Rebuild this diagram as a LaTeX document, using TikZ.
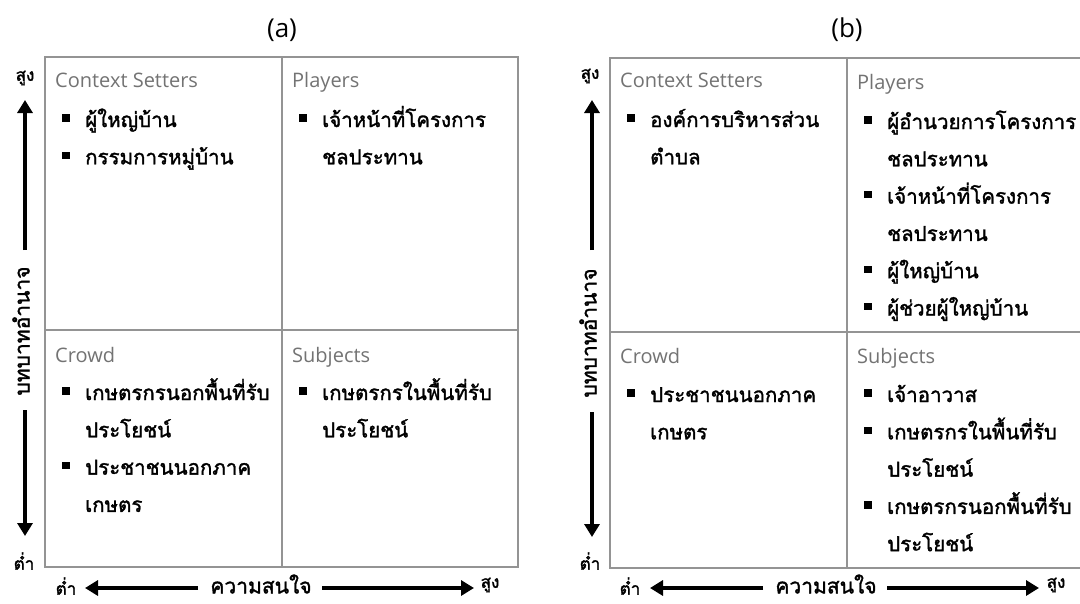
\documentclass[tikz,border=0pt]{standalone}
\usepackage{fontspec}
\setmainfont{Open Sans}
\newfontfamily\thaifont[Script=Thai,FakeBold=1.6]{Loma}
\usetikzlibrary{arrows.meta}
\newcommand\qitem[1]{\par\noindent\makebox[23pt][l]{\rule[.25em]{7.5pt}{7.5pt}}#1}
\newcommand\qcont[1]{\par\noindent\hspace*{23pt}#1}
\newcommand\qlist[1]{\parbox[t]{260pt}{\thaifont\fontsize{20.5}{37.3}\selectfont\lineskiplimit=-100pt\lineskip=0pt #1}}
\begin{document}
\begin{tikzpicture}[x=1pt,y=-1pt,
  gridline/.style={draw=black!42,line width=1.5pt},
  qhead/.style={anchor=base west,inner sep=0pt,text=black!55,font=\fontsize{20}{24}\selectfont},
  qbody/.style={anchor=base west,inner sep=0pt},
  ptitle/.style={inner sep=0pt,font=\fontsize{26}{30}\selectfont},
  axarrow/.style={line width=3.8pt,-{Triangle[length=13pt,width=15pt]}},
  axlabel/.style={inner sep=0pt,font=\thaifont\fontsize{21}{24}\selectfont},
  axend/.style={inner sep=0pt,font=\thaifont\fontsize{17}{20}\selectfont}]
\useasboundingbox (0,0) rectangle (1080,603);
\fill[white] (0,0) rectangle (1080,603);

% ---------------- panel (a) ----------------
\node[ptitle] (ta) at (282,30) {(a)};
\draw[gridline] (45,57) rectangle (518,567);
\draw[gridline] (282,57) -- (282,567);
\draw[gridline] (45,330) -- (518,330);

\node[qhead] (a1h) at (55,87) {Context Setters};
\node[qbody] (a1b) at (62,127) {\qlist{\qitem{ผู้ใหญ่บ้าน}\qitem{กรรมการหมู่บ้าน}}};
\node[qhead] (a2h) at (292,87) {Players};
\node[qbody] (a2b) at (299,127) {\qlist{\qitem{เจ้าหน้าที่โครงการ}\qcont{ชลประทาน}}};
\node[qhead] (a3h) at (55,362) {Crowd};
\node[qbody] (a3b) at (62,400) {\qlist{\qitem{เกษตรกรนอกพื้นที่รับ}\qcont{ประโยชน์}\qitem{ประชาชนนอกภาค}\qcont{เกษตร}}};
\node[qhead] (a4h) at (292,362) {Subjects};
\node[qbody] (a4b) at (299,400) {\qlist{\qitem{เกษตรกรในพื้นที่รับ}\qcont{ประโยชน์}}};

% vertical axis (a)
\node[axend] (ayh) at (25,78) {สูง};
\node[axend] (ayl) at (24,561) {ต่ำ};
\node[axlabel,rotate=90] (ayt) at (21,331) {บทบาทอำนาจ};
\coordinate (ayu0) at (25,250); \coordinate (ayu1) at (25,100);
\coordinate (ayd0) at (25,410); \coordinate (ayd1) at (25,536);
\draw[axarrow] (ayu0) -- (ayu1);
\draw[axarrow] (ayd0) -- (ayd1);
% horizontal axis (a)
\node[axend] (axl) at (66,586) {ต่ำ};
\node[axlabel] (axt) at (261,584) {ความสนใจ};
\node[axend] (axh) at (490,585) {สูง};
\coordinate (axl0) at (198,588); \coordinate (axl1) at (85,588);
\coordinate (axr0) at (322,588); \coordinate (axr1) at (474,588);
\draw[axarrow] (axl0) -- (axl1);
\draw[axarrow] (axr0) -- (axr1);

% ---------------- panel (b) ----------------
\node[ptitle] (tb) at (847,30) {(b)};
\draw[gridline] (1081,58) -- (610,58) -- (610,568) -- (1081,568);
\draw[gridline] (847,58) -- (847,568);
\draw[gridline] (610,332) -- (1081,332);

\node[qhead] (b1h) at (620,87) {Context Setters};
\node[qbody] (b1b) at (627,127) {\qlist{\qitem{องค์การบริหารส่วน}\qcont{ตำบล}}};
\node[qhead] (b2h) at (857,89) {Players};
\node[qbody] (b2b) at (864,129) {\qlist{\qitem{ผู้อำนวยการโครงการ}\qcont{ชลประทาน}\qitem{เจ้าหน้าที่โครงการ}\qcont{ชลประทาน}\qitem{ผู้ใหญ่บ้าน}\qitem{ผู้ช่วยผู้ใหญ่บ้าน}}};
\node[qhead] (b3h) at (620,363) {Crowd};
\node[qbody] (b3b) at (627,402) {\qlist{\qitem{ประชาชนนอกภาค}\qcont{เกษตร}}};
\node[qhead] (b4h) at (857,363) {Subjects};
\node[qbody] (b4b) at (864,402) {\qlist{\qitem{เจ้าอาวาส}\qitem{เกษตรกรในพื้นที่รับ}\qcont{ประโยชน์}\qitem{เกษตรกรนอกพื้นที่รับ}\qcont{ประโยชน์}}};

% vertical axis (b)
\node[axend] (byh) at (590,76) {สูง};
\node[axend] (byl) at (590,561) {ต่ำ};
\node[axlabel,rotate=90] (byt) at (588,333) {บทบาทอำนาจ};
\coordinate (byu0) at (592,250); \coordinate (byu1) at (592,100);
\coordinate (byd0) at (592,412); \coordinate (byd1) at (592,537);
\draw[axarrow] (byu0) -- (byu1);
\draw[axarrow] (byd0) -- (byd1);
% horizontal axis (b)
\node[axend] (bxl) at (630,586) {ต่ำ};
\node[axlabel] (bxt) at (826,584) {ความสนใจ};
\node[axend] (bxh) at (1056,585) {สูง};
\coordinate (bxl0) at (763,588); \coordinate (bxl1) at (650,588);
\coordinate (bxr0) at (887,588); \coordinate (bxr1) at (1039,588);
\draw[axarrow] (bxl0) -- (bxl1);
\draw[axarrow] (bxr0) -- (bxr1);
\end{tikzpicture}
\end{document}
